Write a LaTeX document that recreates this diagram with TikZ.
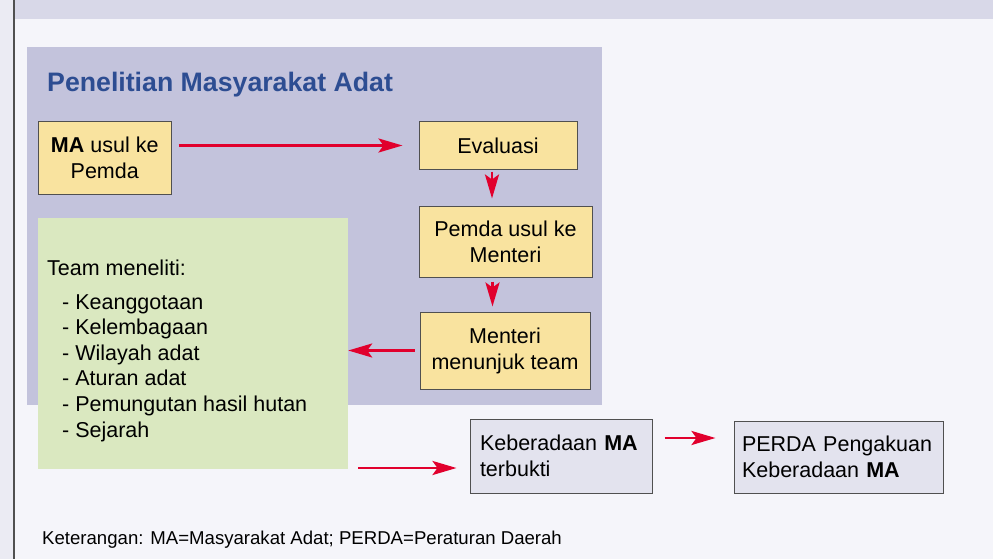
\documentclass[tikz,border=0pt]{standalone}
\usepackage{fontspec}
\setmainfont{Liberation Sans}
\usetikzlibrary{arrows.meta,calc}
\definecolor{bgc}{HTML}{F5F5FA}
\definecolor{stripc}{HTML}{EBEBF3}
\definecolor{bandc}{HTML}{D8D8E8}
\definecolor{purplec}{HTML}{C3C3DC}
\definecolor{yellowc}{HTML}{F9E39F}
\definecolor{greenc}{HTML}{DAE8C0}
\definecolor{grayc}{HTML}{E3E3EE}
\definecolor{redc}{RGB}{225,0,45}
\definecolor{titlec}{HTML}{2D4D92}
\definecolor{borderc}{HTML}{505050}
\begin{document}
\begin{tikzpicture}[x=1pt,y=-1pt,
  bodyfont/.style={font=\fontsize{21.5}{26}\selectfont},
  ybox/.style={bodyfont, draw=borderc, line width=1pt, fill=yellowc, align=center, inner sep=0pt},
  gybox/.style={bodyfont, draw=borderc, line width=1pt, fill=grayc, align=left, inner ysep=0pt},
  gbox/.style={fill=greenc, inner sep=0pt},
  txt/.style={bodyfont, anchor=base west, inner sep=0pt},
  arr/.style={draw=redc, line width=2.7pt, -{Stealth[length=24pt,width=14pt,inset=5pt]}}
]
\useasboundingbox (0,0) rectangle (993,559);
\fill[bgc] (0,0) rectangle (993,559);
\fill[stripc] (0,0) rectangle (14,559);
\fill[bandc] (14,0) rectangle (993,19);
\draw[borderc, line width=1.3pt] (14,0) -- (14,559);
\fill[purplec] (27,47) rectangle (602,405);

\node[font=\fontsize{26.7}{30}\selectfont\bfseries, text=titlec, anchor=base west, inner sep=0pt] (title) at (47,91.7) {Penelitian Masyarakat Adat};

\node[ybox, minimum width=133.5pt, minimum height=72pt] (ma) at (104.75,158) {\textbf{MA} usul ke\\Pemda};
\node[ybox, minimum width=158pt, minimum height=47pt] (eval) at (498,145.5) {Evaluasi};
\node[ybox, minimum width=173pt, minimum height=71pt] (pemda) at (505.5,241.5) {Pemda usul ke\\Menteri};
\node[ybox, minimum width=170pt, minimum height=77pt] (menteri) at (505,350.5) {Menteri\\menunjuk team};

\node[gbox, minimum width=310pt, minimum height=251pt] (green) at (193,343.5) {};
\node[txt] (team) at (47,275) {Team meneliti:};
\foreach \t [count=\i] in {Keanggotaan,Kelembagaan,Wilayah adat,Aturan adat,Pemungutan hasil hutan,Sejarah}
  \node[txt] (item\i) at (62,{309+25.6*(\i-1)}) {- \t};

\node[gybox, inner xsep=10pt, text width=162pt, minimum height=74pt] (keb) at (561,456) {Keberadaan \textbf{MA}\\terbukti};
\node[gybox, inner xsep=8pt, text width=193pt, minimum height=72pt] (perda) at (838.5,457) {PERDA Pengakuan\\Keberadaan \textbf{MA}};

\draw[arr, shorten <=6.5pt, shorten >=16pt] (ma.east |- eval.west) -- (eval.west);
\draw[arr, shorten <=2pt, shorten >=7pt] ([xshift=-6pt]eval.south) -- ([xshift=-6pt]eval.south |- pemda.north);
\draw[arr, shorten <=4pt, shorten >=5pt] ([xshift=-13pt]pemda.south) -- ([xshift=-13pt]pemda.south |- menteri.north);
\draw[arr, shorten <=5pt] (menteri.west) -- (menteri.west -| green.east);
\draw[arr, shorten <=10pt, shorten >=13pt] ([yshift=-12pt]keb.west -| green.east) -- ([yshift=-12pt]keb.west);
\draw[arr, shorten <=12pt, shorten >=18pt] ([yshift=18pt]keb.east) -- ([yshift=18pt]keb.east -| perda.west);

\node[font=\fontsize{18.6}{22}\selectfont, anchor=base west, inner sep=0pt] (note) at (42,544) {Keterangan: MA=Masyarakat Adat; PERDA=Peraturan Daerah};
\end{tikzpicture}
\end{document}
